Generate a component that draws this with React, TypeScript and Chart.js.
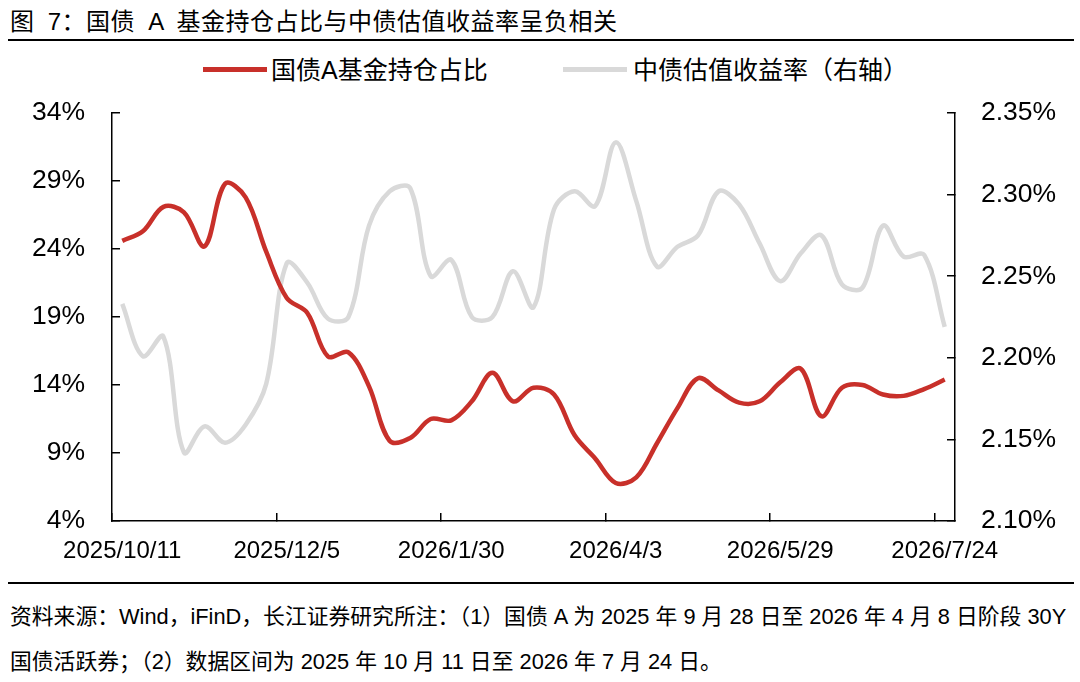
import React, { useEffect, useRef } from "react";
import { Chart, registerables } from "chart.js";

Chart.register(...registerables);

// weekly observations (Spring Festival week has no print)
const weeks = [
  "2025/10/11", "2025/10/17", "2025/10/24", "2025/10/31", "2025/11/7", "2025/11/14",
  "2025/11/21", "2025/11/28", "2025/12/5", "2025/12/12", "2025/12/19", "2025/12/26",
  "2025/12/31", "2026/1/9", "2026/1/16", "2026/1/23", "2026/1/30", "2026/2/6",
  "2026/2/13", "2026/2/27", "2026/3/6", "2026/3/13", "2026/3/20", "2026/3/27",
  "2026/4/3", "2026/4/10", "2026/4/17", "2026/4/24", "2026/4/30", "2026/5/8",
  "2026/5/15", "2026/5/22", "2026/5/29", "2026/6/5", "2026/6/12", "2026/6/18",
  "2026/6/26", "2026/7/3", "2026/7/10", "2026/7/17", "2026/7/24",
];
const labelEvery = 8;

const seriesNames = ["国债A基金持仓占比", "中债估值收益率（右轴）"];

// 国债A基金持仓占比, %
const fundShare = [
  24.6, 25.3, 27.1, 26.7, 24.2, 28.8, 27.8, 23.8, 20.4, 19.3, 16.1, 16.4, 13.9, 9.9,
  10.1, 11.5, 11.4, 12.8, 14.9, 12.8, 13.8, 13.3, 10.3, 8.6, 6.8, 7.2, 9.7, 12.3,
  14.5, 13.6, 12.7, 12.8, 14.2, 15.2, 11.7, 13.8, 14.0, 13.3, 13.2, 13.7, 14.4,
];

// 中债估值收益率, %
const bondYield = [
  2.233, 2.201, 2.213, 2.142, 2.158, 2.148, 2.159, 2.184, 2.258, 2.246, 2.224, 2.225,
  2.281, 2.302, 2.304, 2.25, 2.26, 2.225, 2.225, 2.253, 2.231, 2.291, 2.302, 2.293,
  2.332, 2.296, 2.256, 2.268, 2.275, 2.302, 2.294, 2.27, 2.247, 2.264, 2.275, 2.245,
  2.243, 2.281, 2.262, 2.263, 2.219,
];

const leftMin = 4;
const leftMax = 34;
const leftStep = 5;
const rightMin = 2.1;
const rightMax = 2.35;
const rightStep = 0.05;

const RED = "#C8302A";
const GREY = "#D9D9D9";
const FONT = "'Liberation Sans', Arial, 'Noto Sans CJK SC', sans-serif";

const TrendChart = () => {
  const canvasRef = useRef<HTMLCanvasElement | null>(null);

  useEffect(() => {
    const ctx = canvasRef.current?.getContext("2d");
    if (!ctx) return;

    const chart = new Chart(ctx, {
      type: "line",
      data: {
        labels: weeks,
        datasets: [
          {
            label: seriesNames[0],
            data: fundShare,
            yAxisID: "y",
            borderColor: RED,
            backgroundColor: RED,
            borderWidth: 4.5,
            pointRadius: 0,
            tension: 0.35,
            order: 0,
          },
          {
            label: seriesNames[1],
            data: bondYield,
            yAxisID: "y1",
            borderColor: GREY,
            backgroundColor: GREY,
            borderWidth: 4.5,
            pointRadius: 0,
            tension: 0.35,
            order: 1,
          },
        ],
      },
      options: {
        animation: false,
        responsive: true,
        maintainAspectRatio: false,
        layout: { padding: { top: 69, left: 0, right: 0, bottom: 0 } },
        plugins: {
          legend: { display: false },
          tooltip: { enabled: false },
        },
        scales: {
          x: {
            type: "category",
            offset: true,
            grid: {
              offset: true,
              drawOnChartArea: false,
              drawTicks: true,
              tickLength: -8,
              lineWidth: 1.5,
              color: (c: any) => (c.index % labelEvery === 0 ? "#000" : "rgba(0,0,0,0)"),
            },
            border: { color: "#000", width: 1.5 },
            ticks: {
              autoSkip: false,
              maxRotation: 0,
              minRotation: 0,
              padding: 24,
              color: "#000",
              font: { family: FONT, size: 24 },
              callback: function (this: any, value: any, index: number) {
                return index % labelEvery === 0 ? this.getLabelForValue(value) : "";
              },
            },
            afterFit: (s: any) => {
              s.height = 59;
            },
          },
          y: {
            position: "left",
            min: leftMin,
            max: leftMax,
            grid: {
              drawOnChartArea: false,
              tickLength: -8,
              lineWidth: 1.5,
              color: "#000",
            },
            border: { color: "#000", width: 1.5 },
            ticks: {
              stepSize: leftStep,
              padding: 35,
              color: "#000",
              font: { family: FONT, size: 26.5 },
              callback: (v: any) => `${v}%`,
            },
            afterFit: (s: any) => {
              s.width = 112;
            },
          },
          y1: {
            position: "right",
            min: rightMin,
            max: rightMax,
            grid: {
              drawOnChartArea: false,
              tickLength: -8,
              lineWidth: 1.5,
              color: "#000",
            },
            border: { color: "#000", width: 1.5 },
            ticks: {
              stepSize: rightStep,
              padding: 34,
              color: "#000",
              font: { family: FONT, size: 26.5 },
              callback: (v: any) => `${Number(v).toFixed(2)}%`,
            },
            afterFit: (s: any) => {
              s.width = 125;
            },
          },
        },
      },
    });

    return () => {
      chart.destroy();
    };
  }, []);

  return <canvas ref={canvasRef} />;
};

const abs = (style: React.CSSProperties): React.CSSProperties => ({ position: "absolute", ...style });

export default function App() {
  return (
    <div
      style={{
        position: "absolute",
        left: 0,
        top: 0,
        width: 1080,
        height: 682,
        overflow: "hidden",
        background: "#fff",
        color: "#000",
        fontFamily: FONT,
      }}
    >
      <div
        style={abs({
          left: 10,
          top: 8,
          fontSize: 24,
          lineHeight: "28px",
          letterSpacing: 0.5,
          wordSpacing: 6,
          whiteSpace: "nowrap",
        })}
      >
        图 7：国债 A 基金持仓占比与中债估值收益率呈负相关
      </div>
      <div style={abs({ left: 8, top: 39, width: 1066, height: 1.5, background: "#000" })} />

      {/* legend */}
      <div style={abs({ left: 203, top: 67, width: 64, height: 5, background: RED })} />
      <div style={abs({ left: 271, top: 56, fontSize: 25, lineHeight: "28px", whiteSpace: "nowrap" })}>
        {seriesNames[0]}
      </div>
      <div style={abs({ left: 563, top: 67, width: 64, height: 5, background: GREY })} />
      <div style={abs({ left: 633, top: 56, fontSize: 25, lineHeight: "28px", whiteSpace: "nowrap" })}>
        {seriesNames[1]}
      </div>

      <div style={abs({ left: 0, top: 44, width: 1080, height: 536 })}>
        <TrendChart />
      </div>

      <div style={abs({ left: 8, top: 582, width: 1066, height: 1.5, background: "#000" })} />
      <div style={abs({ left: 10, top: 604, fontSize: 21.8, lineHeight: "26px", whiteSpace: "nowrap" })}>
        资料来源：Wind，iFinD，长江证券研究所注：（1）国债 A 为 2025 年 9 月 28 日至 2026 年 4 月 8 日阶段 30Y
      </div>
      <div style={abs({ left: 10, top: 649, fontSize: 21.8, lineHeight: "26px", whiteSpace: "nowrap" })}>
        国债活跃券；（2）数据区间为 2025 年 10 月 11 日至 2026 年 7 月 24 日。
      </div>
    </div>
  );
}
